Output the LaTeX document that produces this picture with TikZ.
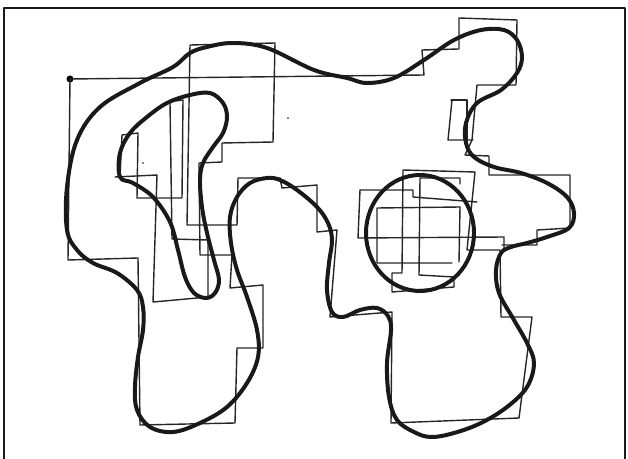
\documentclass[tikz,border=0pt]{standalone}
\begin{document}
\begin{tikzpicture}[x=0.03cm, y=-0.03cm, line join=round, line cap=round,
  outline/.style={line width=3.4pt, black!90},
  trace/.style={line width=1.2pt, black!85},
  frame/.style={line width=2.4pt, black!90}]
  \useasboundingbox (0,0) rectangle (628,459);
  \draw[frame] (4,470) -- (4,8) -- (625,8) -- (625,470);
  % rectilinear approximation, started at the dot
  \fill[black] (70,79) circle[radius=3.5];
  \draw[trace] (70,79) -- (68,260) -- (138,258) -- (140,425) -- (235,423) -- (237,348) -- (263,348) -- (263,285) -- (230,288) -- (232,255) -- (200,255) -- (199,163) -- (222,162) -- (222,143) -- (273,142) -- (275,43) -- (190,45) -- (187,225) -- (237,225) -- (238,178) -- (280,178) -- (282,188) -- (317,185) -- (317,232) -- (337,230) -- (330,317) -- (392,312) -- (391,423) -- (519,418) -- (532,317) -- (501,317) -- (500,250) -- (467,250) -- (475,172) -- (403,170) -- (402,273) -- (392,273) -- (392,292) -- (454,287) -- (454,277) -- (419,275) -- (420,178) -- (460,178) -- (460,184);
  \draw[trace] (502,245) -- (537,245) -- (537,230) -- (570,228) -- (570,175) -- (489,175) -- (489,156) -- (465,155) -- (472,140) -- (477,85) -- (516,85) -- (517,20) -- (459,18) -- (459,49) -- (422,50) -- (424,75) -- (70,79);
  \draw[trace] (451,100) -- (467,100) -- (467,140);
  \draw[trace] (452,100) -- (448,140) -- (473,140);
  % around the tongue
  \draw[trace] (167,102) -- (183,100) -- (182,198) -- (137,198) -- (138,133) -- (122,135) -- (120,177);
  \draw[trace] (115,177) -- (157,175) -- (153,302) -- (208,297) -- (208,240) -- (172,239) -- (170,103);
  % inside the circle
  \draw[trace] (360,190) -- (413,190) -- (413,197) -- (477,202);
  \draw[trace] (360,190) -- (358,238) -- (504,237) -- (504,248);
  \draw[trace] (460,207) -- (377,208) -- (377,263) -- (452,263);
  \draw[trace] (460,207) -- (459,262);
  % specks
  \fill[black] (143,163) circle[radius=0.9];
  \fill[black] (288,118) circle[radius=0.9];
  % region boundary and its holes
  \draw[outline] plot[smooth cycle, tension=0.6] coordinates {(67,187) (77,140) (100,107) (140,83) (173,67) (190,53) (207,47) (233,43) (267,48) (314,70) (347,78) (367,83) (394,78) (424,60) (454,40) (481,30) (504,30) (517,40) (522,57) (517,73) (501,90) (477,103) (466,123) (466,143) (474,157) (494,167) (521,173) (547,183) (567,197) (574,213) (569,228) (547,237) (527,243) (511,247) (501,253) (496,270) (499,293) (514,320) (527,343) (534,363) (527,387) (507,407) (481,423) (454,433) (431,437) (414,432) (397,420) (389,397) (387,363) (391,330) (388,316) (377,308) (360,310) (343,317) (332,312) (327,290) (329,263) (332,240) (328,223) (317,207) (297,190) (280,180) (267,178) (250,183) (237,197) (230,217) (231,243) (237,270) (247,297) (257,330) (258,357) (247,383) (227,407) (200,423) (173,432) (150,427) (137,410) (135,387) (138,357) (143,330) (143,307) (137,290) (117,273) (93,263) (77,250) (67,230)};
  \draw[outline] plot[smooth cycle, tension=0.6] coordinates {(120,177) (120,153) (130,133) (147,117) (167,103) (190,95) (210,93) (223,103) (227,117) (223,133) (213,147) (203,163) (200,180) (202,207) (207,233) (214,260) (219,280) (215,293) (206,298) (194,293) (185,277) (178,250) (170,222) (153,197) (133,183)};
  \draw[outline] (420,233) ellipse[x radius=54, y radius=58];
\end{tikzpicture}
\end{document}
